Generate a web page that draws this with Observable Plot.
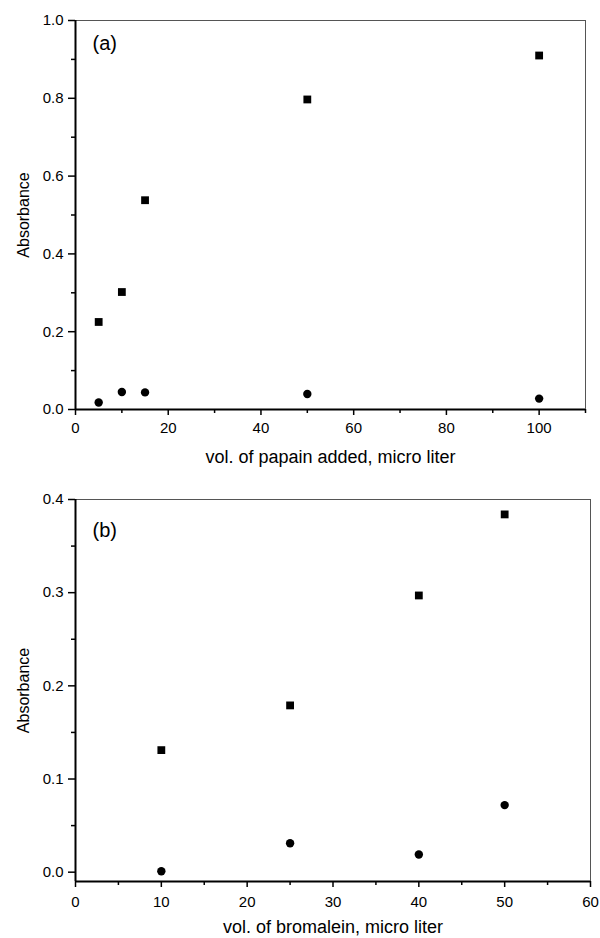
<!DOCTYPE html>
<html><head><meta charset="utf-8">
<script src="https://cdn.jsdelivr.net/npm/d3@7"></script>
<script src="https://cdn.jsdelivr.net/npm/@observablehq/plot@0.6"></script>
<style>
body{margin:0;background:#fff;}
#chart{width:600px;height:938px;position:relative;background:#fff;}
#chart svg{display:block;}
</style></head><body><div id="chart"></div>
<script>
// Panel (a): papain
const papainVol = [5, 10, 15, 50, 100];
const papainSquares = [0.225, 0.302, 0.538, 0.797, 0.910];
const papainCircles = [0.018, 0.045, 0.044, 0.040, 0.028];
// Panel (b): bromalein
const bromVol = [10, 25, 40, 50];
const bromSquares = [0.131, 0.179, 0.297, 0.384];
const bromCircles = [0.001, 0.031, 0.019, 0.072];

const panelTags = ["(a)", "(b)"];
const xTitles = ["vol. of papain added, micro liter", "vol. of bromalein, micro liter"];
const yTitle = "Absorbance";

const aXMajor = [0, 20, 40, 60, 80, 100];
const aXMinor = [10, 30, 50, 70, 90, 110];
const aYMajor = [0, 0.2, 0.4, 0.6, 0.8, 1.0];
const aYMinor = [0.1, 0.3, 0.5, 0.7, 0.9];
const bXMajor = [0, 10, 20, 30, 40, 50, 60];
const bXMinor = [5, 15, 25, 35, 45, 55];
const bYMajor = [0, 0.1, 0.2, 0.3, 0.4];
const bYMinor = [0.05, 0.15, 0.25, 0.35];

const FONT = '"Liberation Sans", Arial, Helvetica, sans-serif';

function panel(cfg) {
  const sqData = cfg.vol.map((v, i) => ({v, a: cfg.sq[i]}));
  const ciData = cfg.vol.map((v, i) => ({v, a: cfg.ci[i]}));
  return Plot.plot({
    width: 600,
    height: cfg.height,
    marginLeft: cfg.ml, marginRight: cfg.mr, marginTop: cfg.mt, marginBottom: cfg.mb,
    style: {fontFamily: FONT, fontSize: "15px", color: "#000", background: "#fff", overflow: "visible"},
    x: {domain: cfg.xDomain},
    y: {domain: cfg.yDomain},
    marks: [
      Plot.frame({stroke: "#555", strokeWidth: 1}),
      Plot.ruleX([cfg.xDomain[0]], {stroke: "#000", strokeWidth: 2}),
      Plot.ruleY([cfg.yDomain[0]], {stroke: "#000", strokeWidth: 2}),
      Plot.axisX(cfg.xMajor, {tickSize: 6, strokeWidth: 1.5, tickPadding: cfg.xPad, fontSize: 15, label: null, tickFormat: d3.format("d")}),
      Plot.axisX(cfg.xMinor, {tickSize: 4, strokeWidth: 1.5, text: null, label: null}),
      Plot.axisY(cfg.yMajor, {tickSize: 7, strokeWidth: 1.5, tickPadding: 5, fontSize: 15, label: null, tickFormat: d3.format(".1f")}),
      Plot.axisY(cfg.yMinor, {tickSize: 4, strokeWidth: 1.5, text: null, label: null}),
      Plot.dot(sqData, {x: "v", y: "a", symbol: "square", r: 4.4, fill: "#000", stroke: null}),
      Plot.dot(ciData, {x: "v", y: "a", symbol: "circle", r: 4.2, fill: "#000", stroke: null}),
      Plot.text([cfg.tag], {frameAnchor: "top-left", dx: 17, dy: cfg.tagDy, fontSize: 20, textAnchor: "start", lineAnchor: "middle"}),
      Plot.text([cfg.xTitle], {frameAnchor: "bottom", dy: cfg.titleDy, fontSize: 18, textAnchor: "middle", lineAnchor: "middle"}),
      Plot.text([yTitle], {frameAnchor: "left", dx: -52, rotate: -90, fontSize: 16, textAnchor: "middle", lineAnchor: "middle"})
    ]
  });
}

const chart = document.getElementById("chart");
chart.append(panel({
  vol: papainVol, sq: papainSquares, ci: papainCircles,
  height: 469, ml: 75, mr: 15, mt: 20, mb: 60,
  xDomain: [0, 110], yDomain: [0, 1],
  xMajor: aXMajor, xMinor: aXMinor, yMajor: aYMajor, yMinor: aYMinor,
  tag: panelTags[0], xTitle: xTitles[0], xPad: 7, tagDy: 23, titleDy: 48
}));
chart.append(panel({
  vol: bromVol, sq: bromSquares, ci: bromCircles,
  height: 469, ml: 75, mr: 10, mt: 30, mb: 57,
  xDomain: [0, 60], yDomain: [-0.01, 0.4],
  xMajor: bXMajor, xMinor: bXMinor, yMajor: bYMajor, yMinor: bYMinor,
  tag: panelTags[1], xTitle: xTitles[1], xPad: 9, tagDy: 31, titleDy: 46
}));
</script>
</body></html>
